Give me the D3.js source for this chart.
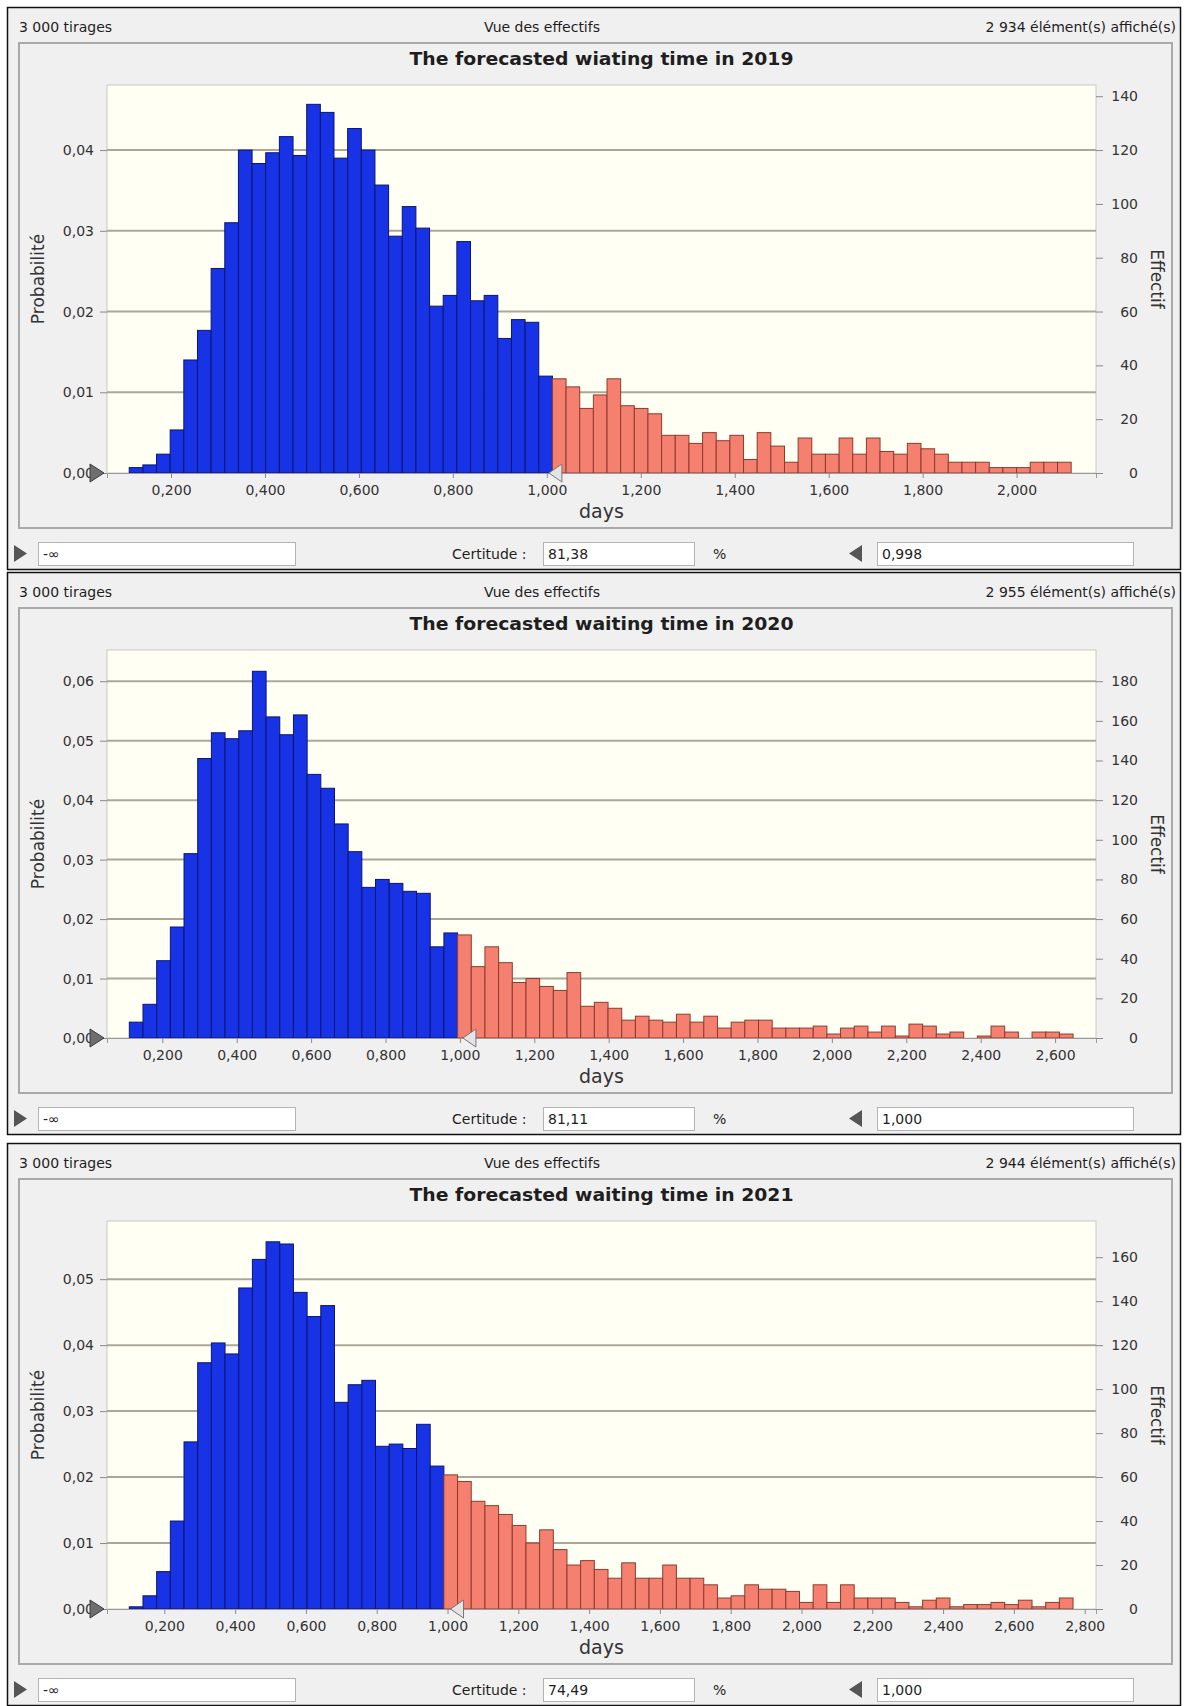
<!DOCTYPE html>
<meta charset="utf-8">
<script src="https://d3js.org/d3.v7.min.js"></script>
<style>
  body { margin: 0; background: #fff; }
  text { font-family: "DejaVu Sans", Verdana, sans-serif; fill: #1e1e1e; }
  .hdr { font-size: 14px; }
  .title { font-size: 17px; font-weight: bold; }
  .tick text { font-family: "DejaVu Sans", Verdana, sans-serif; font-size: 14px; fill: #333; }
  .axlabel { font-size: 17px; fill: #333; }
</style>
<div id="chart"></div>
<script>

// values (3 000 draws each)
var trials = 3000;
var titles = ["The forecasted wiating time in 2019",
              "The forecasted waiting time in 2020",
              "The forecasted waiting time in 2021"];
var shownLabels = ["2 934 élément(s) affiché(s)", "2 955 élément(s) affiché(s)", "2 944 élément(s) affiché(s)"];
var certainty = ["81,38", "81,11", "74,49"];
var upperValues = [0.998, 1.000, 1.000];
var upperLabels = ["0,998", "1,000", "1,000"];

// histogram bins: first bin start and width (days)
var binStarts = [0.111, 0.1113, 0.101];
var binWidths = [0.02906, 0.03677, 0.03864];
var xDomains = [[0.0637, 2.169], [0.0513, 2.71], [0.038, 2.832]];
var probMax = [0.04806, 0.06525, 0.05882];

// counts per bin, inside the certainty range (blue) and beyond it (red)
var blue2019 = [2, 3, 7, 16, 42, 53, 76, 93, 120, 115, 119, 125, 118, 137, 134, 117, 128, 120, 107, 88,
                99, 91, 62, 66, 86, 64, 66, 50, 57, 56, 36];
var red2019 = [35, 32, 24, 29, 35, 25, 24, 22, 14, 14, 11, 15, 12, 14, 5, 15, 10, 4, 13, 7,
               7, 13, 7, 13, 8, 7, 11, 9, 7, 4, 4, 4, 2, 2, 2, 4, 4, 4];
var blue2020 = [8, 17, 39, 56, 93, 141, 154, 151, 155, 185, 162, 153, 163, 133, 126, 108, 94, 76, 80, 78,
                74, 73, 46, 53];
var red2020 = [52, 36, 46, 38, 28, 30, 26, 24, 33, 16, 18, 15, 9, 11, 9, 8, 12, 8, 11, 5,
               8, 9, 9, 5, 5, 5, 6, 2, 5, 6, 3, 6, 1, 7, 6, 2, 3, 0, 1, 6, 3, 0, 3, 3, 2];
var blue2021 = [1, 6, 17, 40, 76, 112, 121, 116, 146, 159, 167, 166, 144, 133, 138, 94, 102, 104, 74, 75,
                73, 84, 65];
var red2021 = [61, 58, 49, 47, 43, 38, 30, 36, 27, 20, 22, 18, 14, 21, 14, 14, 20, 14, 14, 11,
               5, 6, 11, 9, 9, 8, 3, 11, 3, 11, 5, 5, 5, 3, 1, 4, 5, 1, 2, 2, 3, 2, 4, 1, 3, 5];
var blueCounts = [blue2019, blue2020, blue2021];
var redCounts = [red2019, red2020, red2021];

// tick labels
var probTicks = [[0, 0.01, 0.02, 0.03, 0.04],
                 [0, 0.01, 0.02, 0.03, 0.04, 0.05, 0.06],
                 [0, 0.01, 0.02, 0.03, 0.04, 0.05]];
var countTicks = [[0, 20, 40, 60, 80, 100, 120, 140],
                  [0, 20, 40, 60, 80, 100, 120, 140, 160, 180],
                  [0, 20, 40, 60, 80, 100, 120, 140, 160]];
var dayTicks = [[0.2, 0.4, 0.6, 0.8, 1.0, 1.2, 1.4, 1.6, 1.8, 2.0],
                [0.2, 0.4, 0.6, 0.8, 1.0, 1.2, 1.4, 1.6, 1.8, 2.0, 2.2, 2.4, 2.6],
                [0.2, 0.4, 0.6, 0.8, 1.0, 1.2, 1.4, 1.6, 1.8, 2.0, 2.2, 2.4, 2.6, 2.8]];

var fr = d3.formatLocale({decimal: ",", thousands: " ", grouping: [3], currency: ["", ""]});
var fmtDays = fr.format(".3f"), fmtProb = fr.format(".2f");

var W = 1185, H = 1706;
var panelTops = [7, 572, 1143];
var plotL = 107, plotR = 1096;

var svg = d3.select("#chart").append("svg")
    .attr("width", W)
    .attr("height", H);

function drawPanel(i) {
  var g = svg.append("g").attr("transform", "translate(0," + panelTops[i] + ")");
  var top = 78, bottom = 466;

  // window frame
  g.append("rect").attr("x", 7.5).attr("y", 0.5).attr("width", 1173).attr("height", 562)
    .attr("fill", "#f0f0f0").attr("stroke", "#111").attr("stroke-width", 1.5);
  g.append("text").attr("class", "hdr").attr("x", 19).attr("y", 25).text("3 000 tirages");
  g.append("text").attr("class", "hdr").attr("x", 542).attr("y", 25).attr("text-anchor", "middle").text("Vue des effectifs");
  g.append("text").attr("class", "hdr").attr("x", 1176).attr("y", 25).attr("text-anchor", "end").text(shownLabels[i]);

  // inner chart box
  g.append("rect").attr("x", 19).attr("y", 36).attr("width", 1153).attr("height", 485)
    .attr("fill", "#f0f0f0").attr("stroke", "#a9a9a9").attr("stroke-width", 2);
  g.append("text").attr("class", "title").attr("x", (plotL + plotR) / 2).attr("y", 58)
    .attr("text-anchor", "middle").attr("textLength", 384).attr("lengthAdjust", "spacingAndGlyphs")
    .text(titles[i]);

  var x = d3.scaleLinear().domain(xDomains[i]).range([plotL, plotR]);
  var yP = d3.scaleLinear().domain([0, probMax[i]]).range([bottom, top]);
  var yC = d3.scaleLinear().domain([0, probMax[i] * trials]).range([bottom, top]);

  g.append("rect").attr("x", plotL).attr("y", top).attr("width", plotR - plotL).attr("height", bottom - top)
    .attr("fill", "#fffff3").attr("stroke", "#c8c8c0");

  // gridlines
  g.append("g").selectAll("line")
    .data(probTicks[i].filter(function(d) { return d > 0; }))
    .enter().append("line")
      .attr("x1", plotL).attr("x2", plotR)
      .attr("y1", function(d) { return yP(d); })
      .attr("y2", function(d) { return yP(d); })
      .attr("stroke", "#aca899").attr("stroke-width", 2);

  // bars
  var counts = blueCounts[i].concat(redCounts[i]);
  var nBlue = blueCounts[i].length;
  g.append("g").selectAll("rect")
    .data(counts)
    .enter().append("rect")
      .attr("x", function(d, k) { return x(binStarts[i] + k * binWidths[i]); })
      .attr("width", function(d, k) { return x(binStarts[i] + (k + 1) * binWidths[i]) - x(binStarts[i] + k * binWidths[i]); })
      .attr("y", function(d) { return yC(d); })
      .attr("height", function(d) { return bottom - yC(d); })
      .attr("fill", function(d, k) { return k < nBlue ? "#1832e6" : "#f6806f"; })
      .attr("stroke", function(d, k) { return k < nBlue ? "#0c1670" : "#8c3b2e"; })
      .attr("stroke-width", 1);

  // axes
  var xAxis = g.append("g").attr("transform", "translate(0," + bottom + ")")
    .call(d3.axisBottom(x).tickValues(dayTicks[i]).tickFormat(fmtDays).tickSize(5).tickPadding(7));
  var yAxisL = g.append("g").attr("transform", "translate(" + plotL + ",0)")
    .call(d3.axisLeft(yP).tickValues(probTicks[i]).tickFormat(fmtProb).tickSize(7).tickPadding(6));
  var yAxisR = g.append("g").attr("transform", "translate(" + plotR + ",0)")
    .call(d3.axisRight(yC).tickValues(countTicks[i]).tickSize(7).tickPadding(35));
  yAxisR.selectAll(".tick text").attr("text-anchor", "end");
  [xAxis, yAxisL, yAxisR].forEach(function(a) {
    a.select(".domain").attr("stroke", "#9a9a9a");
    a.selectAll(".tick line").attr("stroke", "#8a8a8a");
  });
  yAxisL.select(".domain").remove();
  yAxisR.select(".domain").remove();

  g.append("text").attr("class", "axlabel").attr("x", (plotL + plotR) / 2).attr("y", 511)
    .attr("text-anchor", "middle").style("font-size", "19px").text("days");
  g.append("text").attr("class", "axlabel").attr("transform", "translate(44," + (top + bottom) / 2 + ") rotate(-90)")
    .attr("text-anchor", "middle").text("Probabilité");
  g.append("text").attr("class", "axlabel").attr("transform", "translate(1151," + (top + bottom) / 2 + ") rotate(90)")
    .attr("text-anchor", "middle").text("Effectif");

  // certainty grabbers
  g.append("path").attr("d", "M" + 90 + "," + (bottom - 9) + "L" + 104 + "," + bottom + "L" + 90 + "," + (bottom + 9) + "Z")
    .attr("fill", "#6e6e6e").attr("stroke", "#3a3a3a");
  var ux = x(upperValues[i]) + 3;
  g.append("path").attr("d", "M" + ux + "," + bottom + "L" + (ux + 13) + "," + (bottom - 9) + "L" + (ux + 13) + "," + (bottom + 9) + "Z")
    .attr("fill", "#e4e4e4").attr("stroke", "#777");

  // bottom input row
  var rowY = 535;
  g.append("path").attr("d", "M14," + (rowY + 3) + "L27," + (rowY + 11.5) + "L14," + (rowY + 20) + "Z").attr("fill", "#555");
  var boxes = [[38, 257, "-∞"], [543, 151, certainty[i]], [877, 256, upperLabels[i]]];
  boxes.forEach(function(b) {
    g.append("rect").attr("x", b[0] + 0.5).attr("y", rowY + 0.5).attr("width", b[1]).attr("height", 23)
      .attr("fill", "#fff").attr("stroke", "#b4b4b4");
    g.append("text").attr("class", "hdr").attr("x", b[0] + 5).attr("y", rowY + 17).text(b[2]);
  });
  g.append("text").attr("class", "hdr").attr("x", 452).attr("y", rowY + 17).text("Certitude :");
  g.append("text").attr("class", "hdr").attr("x", 713).attr("y", rowY + 17).text("%");
  g.append("path").attr("d", "M862," + (rowY + 3) + "L849," + (rowY + 11.5) + "L862," + (rowY + 20) + "Z").attr("fill", "#555");
}

drawPanel(0);
drawPanel(1);
drawPanel(2);

</script>
